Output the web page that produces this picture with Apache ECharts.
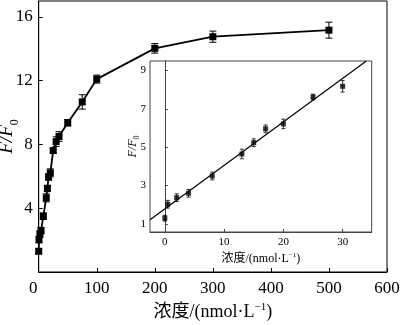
<!DOCTYPE html>
<html>
<head>
<meta charset="utf-8">
<script src="https://cdn.jsdelivr.net/npm/echarts@6/dist/echarts.min.js"></script>
<style>
  html, body { margin: 0; padding: 0; background: #fff; }
  #chart { width: 400px; height: 325px; }
</style>
</head>
<body>
<div id="chart"></div>
<script>
// Full concentration range: concentration (nmol/L), F/F0 and error
const mainConc = [0, 0.5, 2, 4, 8, 13, 15, 17, 20, 25, 30, 35, 50, 75, 100, 200, 300, 500];
const mainRatio = [1.3, 2.03, 2.37, 2.6, 3.5, 4.65, 5.24, 5.96, 6.22, 7.62, 8.18, 8.5, 9.36, 10.67, 12.1, 14.03, 14.76, 15.17];
const mainErr = [0.15, 0.2, 0.2, 0.2, 0.2, 0.25, 0.2, 0.2, 0.25, 0.15, 0.3, 0.3, 0.2, 0.45, 0.25, 0.3, 0.35, 0.5];
const mainXTicks = [0, 100, 200, 300, 400, 500, 600];
const mainYTicks = [4, 8, 12, 16];

// Linear range shown in the inset
const insetConc = [0, 0.5, 2, 4, 8, 13, 15, 17, 20, 25, 30];
const insetRatio = [1.3, 2.03, 2.37, 2.6, 3.5, 4.65, 5.24, 5.96, 6.22, 7.62, 8.18];
const insetErr = [0.15, 0.2, 0.2, 0.2, 0.2, 0.25, 0.2, 0.2, 0.25, 0.15, 0.3];
const fitLine = [[-2.5, 1.22], [34, 9.5]];
const insetXTicks = [0, 10, 20, 30];
const insetYTicks = [1, 3, 5, 7, 9];

const SERIF = "'Liberation Serif', 'Noto Sans CJK SC', serif";

function pairs(xs, ys) { return xs.map((x, i) => [x, ys[i]]); }
function triples(xs, ys, es) { return xs.map((x, i) => [x, ys[i], es[i]]); }

function errorBars(cap, width) {
  return function (params, api) {
    const x = api.value(0), y = api.value(1), e = api.value(2);
    const hi = api.coord([x, y + e]);
    const lo = api.coord([x, y - e]);
    const st = { stroke: '#000', lineWidth: width };
    return {
      type: 'group',
      children: [
        { type: 'line', shape: { x1: hi[0], y1: hi[1], x2: lo[0], y2: lo[1] }, style: st },
        { type: 'line', shape: { x1: hi[0] - cap, y1: hi[1], x2: hi[0] + cap, y2: hi[1] }, style: st },
        { type: 'line', shape: { x1: lo[0] - cap, y1: lo[1], x2: lo[0] + cap, y2: lo[1] }, style: st }
      ]
    };
  };
}

function concName(size) {
  const lh = Math.round(size * 1.05);
  return {
    fontFamily: SERIF,
    fontSize: size,
    color: '#000',
    rich: {
      t: { fontFamily: SERIF, fontSize: size, color: '#000', lineHeight: lh, verticalAlign: 'bottom' },
      sup: { fontFamily: SERIF, fontSize: Math.round(size * 0.6), color: '#000', lineHeight: lh, verticalAlign: 'top' }
    }
  };
}
function ratioName(size) {
  const lh = Math.round(size * 1.2);
  return {
    fontFamily: SERIF,
    fontSize: size,
    color: '#000',
    rich: {
      i: { fontFamily: SERIF, fontStyle: 'italic', fontSize: size, color: '#000', lineHeight: lh, verticalAlign: 'top' },
      sub: { fontFamily: SERIF, fontSize: Math.round(size * 0.65), color: '#000', lineHeight: lh, verticalAlign: 'bottom' }
    }
  };
}

const chart = echarts.init(document.getElementById('chart'), null, { renderer: 'canvas' });

chart.setOption({
  animation: false,
  backgroundColor: '#fff',
  grid: [
    { left: 38.7, right: 13, top: 1, bottom: 53, outerBoundsMode: 'none', containLabel: false,
      show: true, borderColor: '#000', borderWidth: 1, backgroundColor: 'transparent', z: 0 },
    { left: 150, top: 61, width: 221.7, height: 171, outerBoundsMode: 'none', containLabel: false,
      show: true, borderColor: '#444', borderWidth: 1, backgroundColor: '#fff', z: 3 }
  ],
  xAxis: [
    {
      gridIndex: 0, type: 'value', min: 0, max: 600, interval: 100,
      name: '{t|浓度/(nmol·L}{sup|−1}{t|)}', nameLocation: 'middle', nameGap: 30, nameMoveOverlap: false,
      nameTextStyle: concName(18),
      axisLine: { lineStyle: { color: '#000', width: 1 } },
      axisTick: { inside: true, length: 4, lineStyle: { color: '#000' }, customValues: mainXTicks },
      axisLabel: {
        fontFamily: SERIF, fontSize: 17, color: '#000', margin: 8, customValues: mainXTicks,
        formatter: v => (v === 0 ? '{z|0}' : String(v)),
        rich: { z: { fontFamily: SERIF, fontSize: 17, color: '#000', padding: [0, 11, 0, 0] } }
      },
      splitLine: { show: false }
    },
    {
      gridIndex: 1, type: 'value', min: -2.5, max: 34.9, z: 5,
      name: '{t|浓度/(nmol·L}{sup|−1}{t|)}', nameLocation: 'middle', nameGap: 20, nameMoveOverlap: false,
      nameTextStyle: concName(12),
      axisLine: { lineStyle: { color: '#444', width: 1 } },
      axisTick: { inside: true, length: 3, lineStyle: { color: '#444' }, customValues: insetXTicks },
      axisLabel: { fontFamily: SERIF, fontSize: 11, color: '#000', margin: 5, customValues: insetXTicks },
      splitLine: { show: false }
    }
  ],
  yAxis: [
    {
      gridIndex: 0, type: 'value', min: 0, max: 17,
      name: '{i|F/F}{sub|0}', nameLocation: 'middle', nameGap: 18, nameMoveOverlap: false,
      nameTextStyle: ratioName(19),
      axisLine: { lineStyle: { color: '#000', width: 1 } },
      axisTick: { inside: true, length: 4, lineStyle: { color: '#000' }, customValues: mainYTicks },
      axisLabel: { fontFamily: SERIF, fontSize: 17, color: '#000', margin: 6, customValues: mainYTicks },
      splitLine: { show: false }
    },
    {
      gridIndex: 1, type: 'value', min: 0.58, max: 9.5, z: 5,
      name: '{i|F/F}{sub|0}', nameLocation: 'middle', nameGap: 9, nameMoveOverlap: false,
      nameTextStyle: ratioName(12),
      axisLine: { lineStyle: { color: '#444', width: 1 } },
      axisTick: { inside: true, length: 3, lineStyle: { color: '#444' }, customValues: insetYTicks },
      axisLabel: { fontFamily: SERIF, fontSize: 11, color: '#000', margin: 4, customValues: insetYTicks },
      splitLine: { show: false }
    }
  ],
  series: [
    {
      type: 'line', xAxisIndex: 0, yAxisIndex: 0, z: 2,
      data: pairs(mainConc, mainRatio),
      symbol: 'rect', symbolSize: 7,
      itemStyle: { color: '#000' },
      lineStyle: { color: '#000', width: 1.8 }
    },
    {
      type: 'custom', xAxisIndex: 0, yAxisIndex: 0, z: 2,
      data: triples(mainConc, mainRatio, mainErr),
      encode: { x: 0, y: 1 },
      renderItem: errorBars(3.5, 1)
    },
    {
      type: 'line', xAxisIndex: 1, yAxisIndex: 1, z: 6,
      data: fitLine, symbol: 'none',
      lineStyle: { color: '#000', width: 1.2 }
    },
    {
      type: 'scatter', xAxisIndex: 1, yAxisIndex: 1, z: 7,
      data: pairs(insetConc, insetRatio),
      symbol: 'rect', symbolSize: 5,
      itemStyle: { color: '#000' }
    },
    {
      type: 'custom', xAxisIndex: 1, yAxisIndex: 1, z: 7,
      data: triples(insetConc, insetRatio, insetErr),
      encode: { x: 0, y: 1 },
      renderItem: errorBars(2, 0.8)
    }
  ]
});
</script>
</body>
</html>
